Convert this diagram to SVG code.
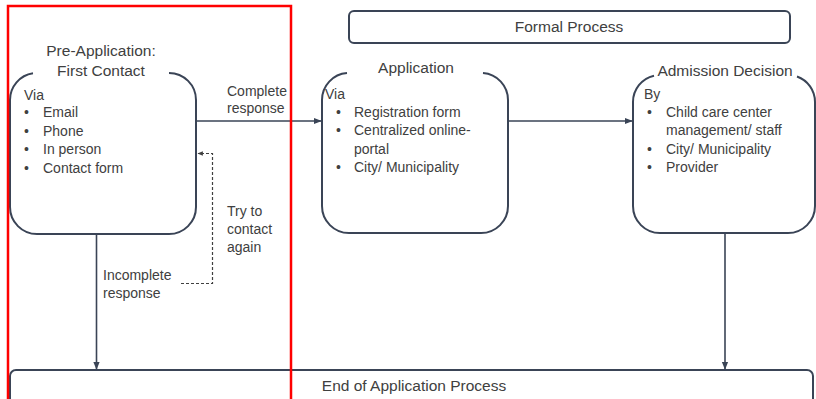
<svg xmlns="http://www.w3.org/2000/svg" width="816" height="399" viewBox="0 0 816 399">
  <style>
    .box { fill: none; stroke: #3a4456; stroke-width: 2; }
    .title { font-family: "Liberation Sans", Arial, sans-serif; font-size: 15.5px; fill: #404040; }
    .body { font-family: "Liberation Sans", Arial, sans-serif; font-size: 14px; fill: #404040; }
    .lbl { font-family: "Liberation Sans", Arial, sans-serif; font-size: 14px; fill: #404040; }
    .conn { fill: none; stroke: #3a4456; stroke-width: 1.6; }
    .dash { fill: none; stroke: #404040; stroke-width: 1.2; stroke-dasharray: 3 2; }
  </style>
  <defs>
    <marker id="arrow" viewBox="0 0 10 10" refX="9" refY="5" markerWidth="5" markerHeight="5" orient="auto" markerUnits="strokeWidth">
      <path d="M0,1 L10,5 L0,9 z" fill="#3a4456"/>
    </marker>
    <marker id="arrowSmall" viewBox="0 0 10 10" refX="9" refY="5" markerWidth="4.5" markerHeight="4.5" orient="auto" markerUnits="strokeWidth">
      <path d="M0,1 L10,5 L0,9 z" fill="#404040"/>
    </marker>
  </defs>

  <rect width="816" height="399" fill="#ffffff"/>

  <!-- Formal process banner -->
  <g id="formal-process">
    <rect class="box" x="349" y="11" width="441" height="32" rx="5"/>
    <text class="title" x="569" y="32" text-anchor="middle" font-size="15">Formal Process</text>
  </g>

  <!-- Pre-application node -->
  <g id="pre-application">
    <path class="box" d="M169,73 A27,27 0 0 1 196,100 V207 A27,27 0 0 1 169,234 H37 A27,27 0 0 1 10,207 V100 A27,27 0 0 1 33,73.3"/>
    <text class="title" x="101" y="56" text-anchor="middle">Pre-Application:</text>
    <text class="title" x="101" y="75.5" text-anchor="middle">First Contact</text>
    <text class="body" x="24" y="99.5">Via</text>
    <g class="body">
      <text x="24" y="117">•</text><text x="43" y="117">Email</text>
      <text x="24" y="135.5">•</text><text x="43" y="135.5">Phone</text>
      <text x="24" y="154">•</text><text x="43" y="154">In person</text>
      <text x="24" y="172.5">•</text><text x="43" y="172.5">Contact form</text>
    </g>
  </g>

  <!-- Application node -->
  <g id="application">
    <path class="box" d="M483,73 A27,27 0 0 1 508,100 V206 A27,27 0 0 1 481,233 H349 A27,27 0 0 1 322,206 V100 A27,27 0 0 1 347,73.1"/>
    <text class="title" x="416" y="73" text-anchor="middle">Application</text>
    <text class="body" x="325" y="99">Via</text>
    <g class="body">
      <text x="336" y="117">•</text><text x="354" y="117">Registration form</text>
      <text x="336" y="135">•</text><text x="354" y="135">Centralized online-</text>
      <text x="354" y="153.5">portal</text>
      <text x="336" y="172">•</text><text x="354" y="172">City/ Municipality</text>
    </g>
  </g>

  <!-- Admission decision node -->
  <g id="admission-decision">
    <path class="box" d="M797,76.5 A27,27 0 0 1 815,102 V206 A27,27 0 0 1 788,233 H660 A27,27 0 0 1 633,206 V102 A27,27 0 0 1 654,75.7"/>
    <text class="title" x="725" y="76" text-anchor="middle">Admission Decision</text>
    <text class="body" x="644" y="99">By</text>
    <g class="body">
      <text x="647" y="117">•</text><text x="666" y="117">Child care center</text>
      <text x="666" y="135">management/ staff</text>
      <text x="647" y="154">•</text><text x="666" y="154">City/ Municipality</text>
      <text x="647" y="172">•</text><text x="666" y="172">Provider</text>
    </g>
  </g>

  <!-- End of process bar -->
  <g id="end-of-process">
    <rect class="box" x="10" y="370" width="803" height="60" rx="6"/>
    <text class="title" x="414" y="391" text-anchor="middle" font-size="15">End of Application Process</text>
  </g>

  <!-- Connectors -->
  <g id="connectors">
    <line class="conn" x1="196" y1="121" x2="321" y2="121" marker-end="url(#arrow)"/>
    <line class="conn" x1="508" y1="121" x2="632" y2="121" marker-end="url(#arrow)"/>
    <line class="conn" x1="96.5" y1="234" x2="96.5" y2="369" marker-end="url(#arrow)"/>
    <line class="conn" x1="725" y1="233" x2="725" y2="369" marker-end="url(#arrow)"/>
    <path class="dash" d="M181,283.5 H212.5 V153.5 H198" marker-end="url(#arrowSmall)"/>
    <g class="lbl">
      <text x="227" y="96">Complete</text>
      <text x="227" y="113">response</text>
      <text x="227" y="215.5">Try to</text>
      <text x="227" y="234">contact</text>
      <text x="227" y="252">again</text>
      <text x="103" y="279.5">Incomplete</text>
      <text x="103" y="297.5">response</text>
    </g>
  </g>

  <!-- Highlight frame around the pre-application stage -->
  <g id="highlight">
    <rect x="8" y="6" width="283" height="420" fill="none" stroke="#ff0000" stroke-width="2.5"/>
  </g>
</svg>
